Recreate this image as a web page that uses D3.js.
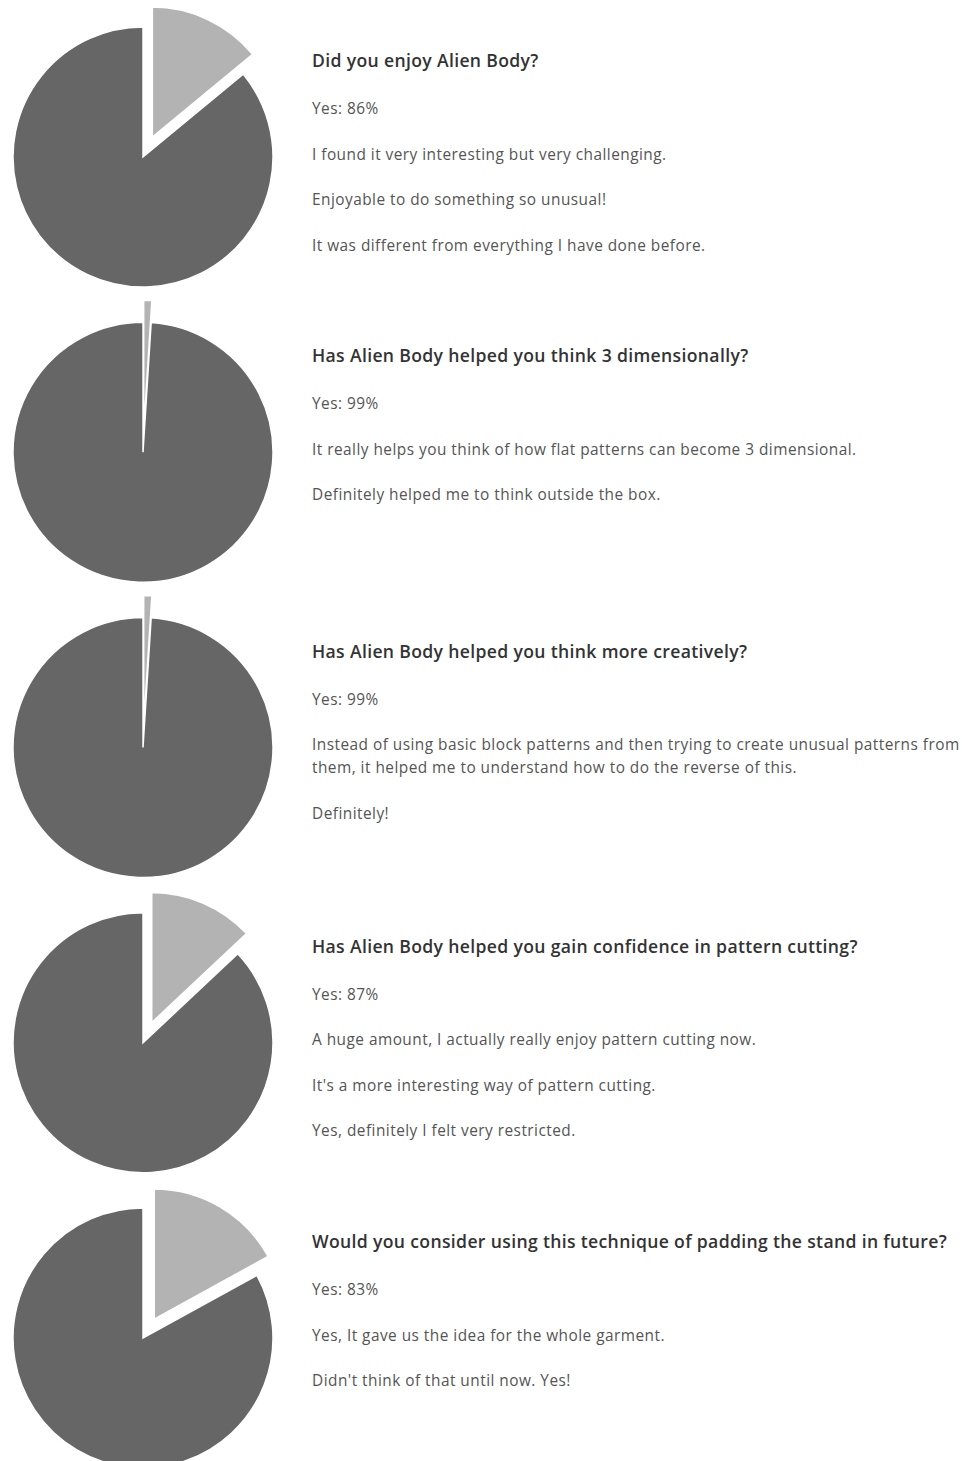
<!DOCTYPE html>
<html>
<head>
<meta charset="utf-8">
<script src="https://cdn.jsdelivr.net/npm/d3@7"></script>
<style>
  body { margin: 0; background: #fff; }
  text { font-family: "Open Sans", Lato, sans-serif; }
</style>
</head>
<body>
<svg id="chart" width="962" height="1461"></svg>
<script>
// Survey questions and yes-share (percent)
const questions = [
  'Did you enjoy Alien Body?',
  'Has Alien Body helped you think 3 dimensionally?',
  'Has Alien Body helped you think more creatively?',
  'Has Alien Body helped you gain confidence in pattern cutting?',
  'Would you consider using this technique of padding the stand in future?'
];
const yesPct = [86, 99, 99, 87, 83];

// Comments per question (inner arrays = wrapped lines)
const comments = [
  [['I found it very interesting but very challenging.'],
   ['Enjoyable to do something so unusual!'],
   ['It was different from everything I have done before.']],
  [['It really helps you think of how flat patterns can become 3 dimensional.'],
   ['Definitely helped me to think outside the box.']],
  [['Instead of using basic block patterns and then trying to create unusual patterns from',
    'them, it helped me to understand how to do the reverse of this.'],
   ['Definitely!']],
  [['A huge amount, I actually really enjoy pattern cutting now.'],
   ["It's a more interesting way of pattern cutting."],
   ['Yes, definitely I felt very restricted.']],
  [['Yes, It gave us the idea for the whole garment.'],
   ["Didn't think of that until now. Yes!"]]
];

const svg = d3.select('#chart');
const radius = 130;
const explode = 22;
const cx = 143;
const rowY = d3.scaleLinear().domain([0, 4]).range([157, 1338]);

const pie = d3.pie().sort(null).value(d => d.value);
const arc = d3.arc().innerRadius(0).outerRadius(radius);

yesPct.forEach((yes, i) => {
  const cy = rowY(i);
  const g = svg.append('g').attr('transform', `translate(${cx},${cy})`);
  const slices = pie([
    { key: 'no', value: 100 - yes },
    { key: 'yes', value: yes }
  ]);

  g.selectAll('path')
    .data(slices)
    .enter()
    .append('path')
    .attr('d', arc)
    .attr('fill', d => d.data.key === 'no' ? '#b3b3b3' : '#666666')
    .attr('stroke', '#fff')
    .attr('stroke-width', 1.5)
    .attr('transform', d => {
      if (d.data.key !== 'no') return null;
      const a = (d.startAngle + d.endAngle) / 2;
      return `translate(${Math.sin(a) * explode},${-Math.cos(a) * explode})`;
    });

  // Text block
  const tx = 312;
  let y = cy - 90;
  svg.append('text')
    .attr('x', tx).attr('y', y)
    .attr('font-size', 17.6).attr('font-weight', 600)
    .attr('letter-spacing', 0.34)
    .attr('fill', '#333')
    .text(questions[i]);

  y = cy - 43;
  svg.append('text')
    .attr('x', tx).attr('y', y)
    .attr('font-size', 15.4).attr('letter-spacing', 0.47)
    .attr('fill', '#555')
    .text(`Yes: ${yes}%`);

  comments[i].forEach(lines => {
    y += 45.5;
    lines.forEach((line, j) => {
      if (j > 0) y += 23;
      svg.append('text')
        .attr('x', tx).attr('y', y)
        .attr('font-size', 15.4).attr('letter-spacing', 0.47)
        .attr('fill', '#555')
        .text(line);
    });
  });
});
</script>
</body>
</html>
